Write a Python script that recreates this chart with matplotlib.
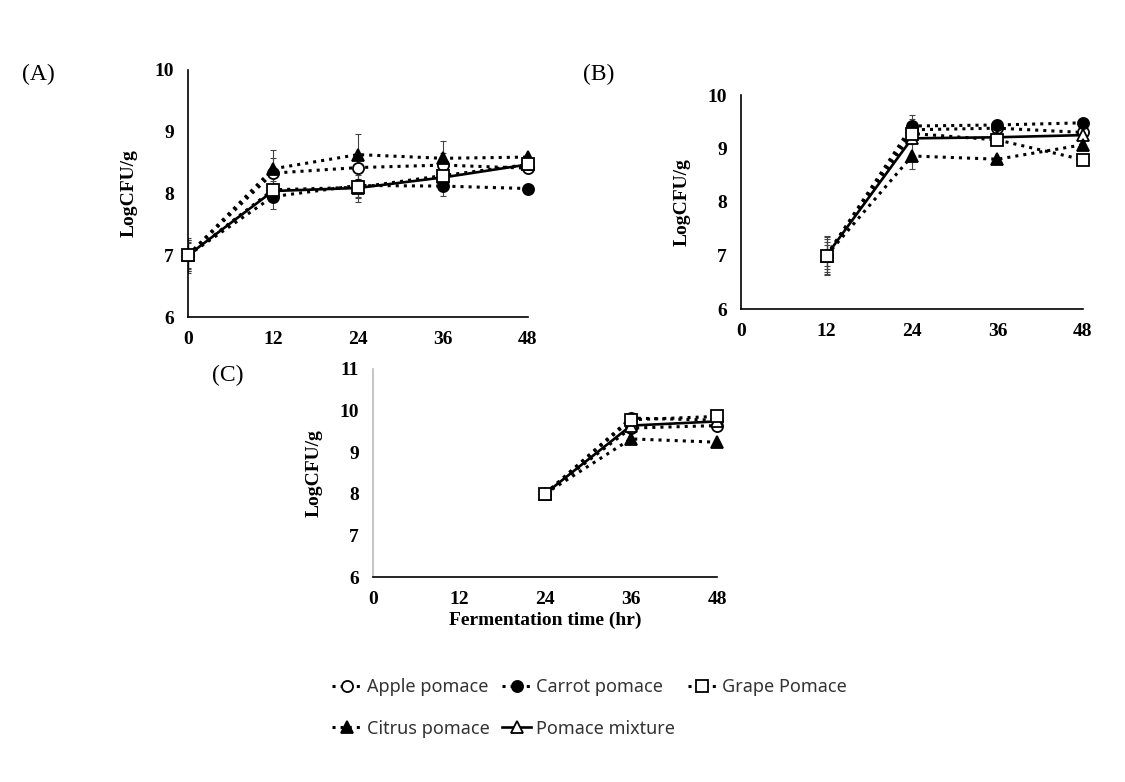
import matplotlib.pyplot as plt

# sampling times (hr) per panel
xA = [0, 12, 24, 36, 48]
xB = [12, 24, 36, 48]
xC = [24, 36, 48]

# panel A  (LogCFU/g)
appleA = [7.0, 8.33, 8.42, 8.46, 8.41]
carrotA = [7.0, 7.95, 8.13, 8.12, 8.08]
grapeA = [7.0, 8.06, 8.10, 8.29, 8.47]
citrusA = [7.0, 8.40, 8.63, 8.57, 8.59]
mixA = [7.0, 8.04, 8.09, 8.26, 8.47]
errA_apple = [0.25, 0.25, 0.20, 0.20, 0.05]
errA_carrot = [0.22, 0.20, 0.20, 0.16, 0.03]
errA_grape = [0.25, 0.15, 0.24, 0.15, 0.05]
errA_citrus = [0.28, 0.30, 0.33, 0.28, 0.05]
errA_mix = [0.20, 0.12, 0.15, 0.12, 0.04]

# panel B
appleB = [7.0, 9.35, 9.38, 9.30]
carrotB = [7.0, 9.42, 9.44, 9.48]
grapeB = [7.0, 9.28, 9.16, 8.79]
citrusB = [7.0, 8.86, 8.80, 9.07]
mixB = [7.0, 9.19, 9.21, 9.25]
errB_apple = [0.30, 0.20, 0.04, 0.04]
errB_carrot = [0.25, 0.20, 0.04, 0.04]
errB_grape = [0.37, 0.15, 0.05, 0.04]
errB_citrus = [0.35, 0.25, 0.04, 0.04]
errB_mix = [0.20, 0.10, 0.04, 0.04]

# panel C
appleC = [8.0, 9.58, 9.64]
carrotC = [8.0, 9.82, 9.77]
grapeC = [8.0, 9.78, 9.86]
citrusC = [8.0, 9.32, 9.24]
mixC = [8.0, 9.64, 9.74]

names = ['Apple pomace', 'Carrot pomace', 'Grape Pomace', 'Citrus pomace', 'Pomace mixture']

W, H = 1125, 782
fig = plt.figure(figsize=(W / 100, H / 100), dpi=100)

serif = 'Liberation Serif'
styles = [
    dict(ls=':', marker='o', mfc='white', mec='black', color='black'),
    dict(ls=':', marker='o', mfc='black', mec='black', color='black'),
    dict(ls=':', marker='s', mfc='white', mec='black', color='black'),
    dict(ls=':', marker='^', mfc='black', mec='black', color='black'),
    dict(ls='-', marker='^', mfc='white', mec='black', color='black'),
]
zorders = [2, 2, 4, 3, 2.5]


def box(l, r, t, b):
    return [l / W, (H - b) / H, (r - l) / W, (b - t) / H]


def setup(ax, ymin, ymax, spine_col='black'):
    ax.set_xlim(0, 48)
    ax.set_ylim(ymin, ymax)
    ax.set_xticks([0, 12, 24, 36, 48])
    ax.set_yticks(range(ymin, ymax + 1))
    ax.spines['top'].set_visible(False)
    ax.spines['right'].set_visible(False)
    ax.spines['left'].set_color(spine_col)
    ax.spines['left'].set_linewidth(1.2)
    ax.spines['bottom'].set_linewidth(1.2)
    ax.tick_params(length=0, pad=10)
    for lab in ax.get_xticklabels() + ax.get_yticklabels():
        lab.set_fontfamily(serif)
        lab.set_fontweight('bold')
        lab.set_fontsize(14)
    ax.set_ylabel('LogCFU/g', fontfamily=serif, fontweight='bold', fontsize=14, labelpad=12)


def draw(ax, x, series, errs=None):
    handles = []
    for i, y in enumerate(series):
        st = styles[i]
        if errs is not None:
            ax.errorbar(x, y, yerr=errs[i], fmt='none', ecolor='#444444', elinewidth=0.8,
                        capsize=2.5, capthick=0.8, zorder=1)
        h, = ax.plot(x, y, lw=2.2 if st['ls'] == ':' else 1.9, ms=8, mew=1.3,
                     zorder=zorders[i], clip_on=False, **st)
        handles.append(h)
    return handles


axA = fig.add_axes(box(188, 528, 70, 317))
hs = draw(axA, xA, [appleA, carrotA, grapeA, citrusA, mixA],
          [errA_apple, errA_carrot, errA_grape, errA_citrus, errA_mix])
setup(axA, 6, 10)

axB = fig.add_axes(box(741, 1083, 95, 309))
draw(axB, xB, [appleB, carrotB, grapeB, citrusB, mixB],
     [errB_apple, errB_carrot, errB_grape, errB_citrus, errB_mix])
setup(axB, 6, 10)

axC = fig.add_axes(box(373, 717, 369, 577))
draw(axC, xC, [appleC, carrotC, grapeC, citrusC, mixC])
setup(axC, 6, 11, spine_col='#bbbbbb')
axC.set_xlabel('Fermentation time (hr)', fontfamily=serif, fontweight='bold', fontsize=14, labelpad=3)

fig.text(22 / W, 1 - 74 / H, '(A)', fontfamily=serif, fontsize=17, va='center')
fig.text(583 / W, 1 - 74 / H, '(B)', fontfamily=serif, fontsize=17, va='center')
fig.text(212 / W, 1 - 375 / H, '(C)', fontfamily=serif, fontsize=17, va='center')

order = [0, 3, 1, 4, 2]
leg = fig.legend([hs[i] for i in order], [names[i] for i in order], ncol=3,
                 loc='upper left', bbox_to_anchor=(316 / W, 1 - 662 / H), frameon=False,
                 prop={'family': 'Noto Sans', 'size': 13}, handlelength=1.6,
                 handletextpad=0.3, columnspacing=0.7, labelspacing=1.3)
for t in leg.get_texts():
    t.set_color('#333333')

fig.savefig('out.png', dpi=100)
